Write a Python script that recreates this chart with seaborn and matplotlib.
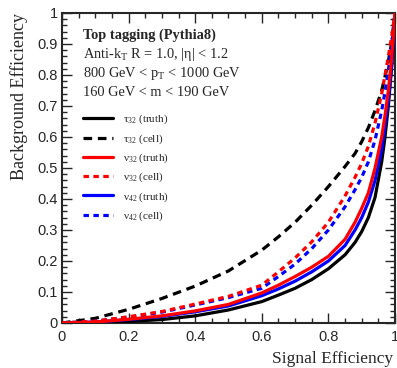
import numpy as np
import pandas as pd
import seaborn as sns
import matplotlib.pyplot as plt
from matplotlib.ticker import MultipleLocator

# signal efficiency grid
sig_eff = [0, 0.1, 0.2, 0.3, 0.4, 0.5, 0.6, 0.65, 0.7, 0.75, 0.8, 0.85, 0.88, 0.9,
           0.92, 0.94, 0.96, 0.97, 0.98, 0.99, 1.0]

# background efficiency per tagger
tau32_truth = [0, 0.001, 0.005, 0.011, 0.023, 0.042, 0.069, 0.09, 0.112, 0.14, 0.175, 0.22, 0.26,
               0.295, 0.34, 0.405, 0.52, 0.6, 0.7, 0.83, 1.0]
tau32_cell = [0, 0.015, 0.044, 0.079, 0.119, 0.168, 0.235, 0.278, 0.325, 0.38, 0.44, 0.505, 0.547,
              0.585, 0.63, 0.685, 0.75, 0.795, 0.845, 0.905, 1.0]
v32_truth = [0, 0.003, 0.012, 0.023, 0.039, 0.06, 0.097, 0.122, 0.15, 0.18, 0.215, 0.27, 0.325,
             0.37, 0.42, 0.5, 0.6, 0.67, 0.75, 0.855, 1.0]
v32_cell = [0, 0.006, 0.02, 0.037, 0.061, 0.086, 0.122, 0.165, 0.21, 0.262, 0.325, 0.41, 0.47,
            0.515, 0.57, 0.645, 0.74, 0.8, 0.86, 0.925, 1.0]
v42_truth = [0, 0.003, 0.011, 0.021, 0.036, 0.055, 0.088, 0.11, 0.135, 0.165, 0.2, 0.25, 0.3,
             0.34, 0.39, 0.46, 0.56, 0.635, 0.72, 0.83, 1.0]
v42_cell = [0, 0.006, 0.019, 0.035, 0.058, 0.082, 0.112, 0.15, 0.19, 0.24, 0.3, 0.375, 0.43,
            0.47, 0.52, 0.59, 0.685, 0.745, 0.815, 0.895, 1.0]

labels = ["τ$_{32}$ (truth)", "τ$_{32}$ (cell)", "ν$_{32}$ (truth)",
          "ν$_{32}$ (cell)", "ν$_{42}$ (truth)", "ν$_{42}$ (cell)"]
series = [tau32_truth, tau32_cell, v32_truth, v32_cell, v42_truth, v42_cell]

sns.set_style("ticks")
plt.rcParams['font.family'] = ['Liberation Sans', 'DejaVu Sans']
plt.rcParams['mathtext.fontset'] = 'custom'
plt.rcParams['mathtext.rm'] = 'Liberation Serif'
plt.rcParams['mathtext.it'] = 'Liberation Serif:italic'
plt.rcParams['mathtext.bf'] = 'Liberation Serif:bold'

fig = plt.figure(figsize=(3.97, 3.68), dpi=100)
ax = fig.add_axes([0.156, 0.1223, 0.839, 0.8424])

styles = [
    dict(color='black', linestyle='-', zorder=3),
    dict(color='black', linestyle=(0, (2.7, 1.8)), zorder=3),
    dict(color='#ff0000', linestyle='-', zorder=5),
    dict(color='#ff0000', linestyle=(0, (1.7, 1.4)), zorder=5),
    dict(color='#0000ff', linestyle='-', zorder=4),
    dict(color='#0000ff', linestyle=(0, (1.7, 1.4)), zorder=4),
]

for lab, vals, st in zip(labels, series, styles):
    df = pd.DataFrame({'sig': sig_eff, 'bkg': vals})
    sns.lineplot(data=df, x='sig', y='bkg', ax=ax, label=lab, lw=2.3,
                 sort=False, estimator=None, **st)

ax.set_xlim(0, 1)
ax.set_ylim(0, 1)
ax.xaxis.set_minor_locator(MultipleLocator(0.05))
ax.yaxis.set_minor_locator(MultipleLocator(0.02))
ax.set_xticks([0, 0.2, 0.4, 0.6, 0.8, 1.0])
ax.set_xticklabels(["0", "0.2", "0.4", "0.6", "0.8", "1"])
ax.set_yticks([i / 10 for i in range(11)])
ax.set_yticklabels(["0"] + ["0.%d" % i for i in range(1, 10)] + ["1"])
ax.tick_params(which='both', direction='in', top=True, right=True, width=1, labelsize=10.5)
ax.tick_params(which='major', length=7)
ax.tick_params(which='minor', length=3.6)
ax.tick_params(axis='x', pad=5)
ax.tick_params(axis='y', pad=3)
for sp in ax.spines.values():
    sp.set_linewidth(1.5)

ax.set_xlabel("Signal Efficiency", family='Liberation Serif', fontsize=12.5, ha='right')
ax.xaxis.set_label_coords(0.994, -0.09)
ax.xaxis.label.set_va('top')
ax.set_ylabel("Background Efficiency", family='Liberation Serif', fontsize=13, ha='right')
ax.yaxis.set_label_coords(-0.102, 1.0)

tx = 0.062
fs = 10.4
ax.text(tx, 0.929, "Top tagging (Pythia8)", transform=ax.transAxes, family='Liberation Serif',
        fontweight='bold', fontsize=fs, va='center')
ax.text(tx, 0.865, "Anti-k$_{\\rm T}$ R = 1.0, |η| < 1.2", transform=ax.transAxes,
        family='Liberation Serif', fontsize=fs, va='center')
ax.text(tx, 0.806, "800 GeV < p$_{\\rm T}$ < 1000 GeV", transform=ax.transAxes,
        family='Liberation Serif', fontsize=fs, va='center')
ax.text(tx, 0.745, "160 GeV < m < 190 GeV", transform=ax.transAxes,
        family='Liberation Serif', fontsize=fs, va='center')

leg = ax.legend(loc='upper left', bbox_to_anchor=(0.05, 0.692), frameon=False,
                prop={'family': 'Liberation Serif', 'size': 8}, handlelength=2.7,
                handletextpad=0.9, labelspacing=0.52, borderaxespad=0)

fig.savefig("out.png", dpi=100)
